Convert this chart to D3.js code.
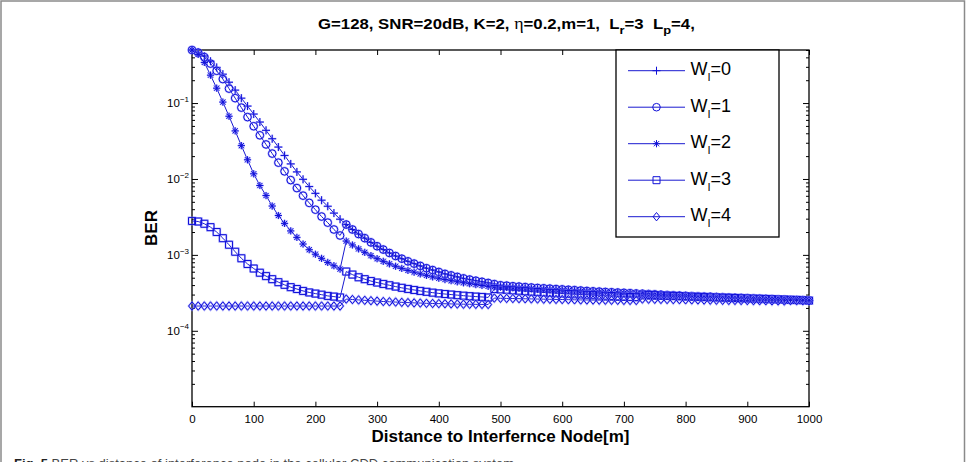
<!DOCTYPE html>
<html><head><meta charset="utf-8">
<script src="https://cdn.jsdelivr.net/npm/d3@7"></script>
<style>body{margin:0;background:#fff} svg{display:block;font-family:"Liberation Sans",Arial,sans-serif}</style>
</head><body><svg id="c" width="968" height="462"></svg>
<script>
// ---------- data ----------
const distance = [0,10,20,30,40,50,60,70,80,90,100,110,120,130,140,150,160,170,180,190,200,210,220,230,240,250,260,270,280,290,300,310,320,330,340,350,360,370,380,390,400,410,420,430,440,450,460,470,480,490,500,510,520,530,540,550,560,570,580,590,600,610,620,630,640,650,660,670,680,690,700,710,720,730,740,750,760,770,780,790,800,810,820,830,840,850,860,870,880,890,900,910,920,930,940,950,960,970,980,990,1000];

const berW0 = [0.500,0.468,0.417,0.355,0.295,0.240,0.188,0.148,0.116,0.0912,0.0716,0.0562,0.0437,0.0339,0.0263,0.0204,0.0158,0.0124,0.00989,0.00794,0.00646,0.00525,0.00437,0.00355,0.00295,
0.00251,0.00216,0.00188,0.00166,0.00146,0.00130,0.001175,0.00106,9.66e-4,8.91e-4,8.22e-4,7.67e-4,7.16e-4,6.68e-4,6.31e-4,5.96e-4,5.62e-4,5.37e-4,5.13e-4,4.90e-4,4.73e-4,4.57e-4,4.42e-4,4.27e-4,
4.12e-4,3.98e-4,3.93e-4,3.87e-4,3.82e-4,3.77e-4,3.72e-4,3.67e-4,3.63e-4,3.59e-4,3.55e-4,3.51e-4,3.47e-4,3.43e-4,3.39e-4,3.35e-4,3.31e-4,3.28e-4,3.25e-4,3.22e-4,3.19e-4,3.16e-4,3.13e-4,3.10e-4,
3.08e-4,3.05e-4,3.02e-4,2.99e-4,2.96e-4,2.94e-4,2.91e-4,2.88e-4,2.86e-4,2.84e-4,2.82e-4,2.81e-4,2.79e-4,2.77e-4,2.75e-4,2.73e-4,2.71e-4,2.69e-4,2.67e-4,2.65e-4,2.64e-4,2.62e-4,2.60e-4,2.58e-4,2.56e-4,2.55e-4,2.53e-4,2.51e-4];

const berW1 = [0.500,0.462,0.403,0.331,0.266,0.207,0.155,0.116,0.0871,0.0653,0.0495,0.0376,0.0285,0.0216,0.0164,0.0126,0.00966,0.00759,0.00603,0.00484,0.00394,0.00320,0.00266,0.00216,0.00180,
0.00251,0.00216,0.00188,0.00166,0.00146,0.00130,0.001175,0.00106,9.66e-4,8.91e-4,8.22e-4,7.67e-4,7.16e-4,6.68e-4,6.31e-4,5.96e-4,5.62e-4,5.37e-4,5.13e-4,4.90e-4,4.73e-4,4.57e-4,4.42e-4,4.27e-4,
4.12e-4,3.98e-4,3.93e-4,3.87e-4,3.82e-4,3.77e-4,3.72e-4,3.67e-4,3.63e-4,3.59e-4,3.55e-4,3.51e-4,3.47e-4,3.43e-4,3.39e-4,3.35e-4,3.31e-4,3.28e-4,3.25e-4,3.22e-4,3.19e-4,3.16e-4,3.13e-4,3.10e-4,
3.08e-4,3.05e-4,3.02e-4,2.99e-4,2.96e-4,2.94e-4,2.91e-4,2.88e-4,2.86e-4,2.84e-4,2.82e-4,2.81e-4,2.79e-4,2.77e-4,2.75e-4,2.73e-4,2.71e-4,2.69e-4,2.67e-4,2.65e-4,2.64e-4,2.62e-4,2.60e-4,2.58e-4,2.56e-4,2.55e-4,2.53e-4,2.51e-4];

const berW2 = [0.500,0.437,0.343,0.233,0.157,0.103,0.067,0.043,0.0275,0.0179,0.0117,0.0082,0.00605,0.0044,0.0033,0.0026,0.00207,0.0017,0.00139,0.00117,0.00102,9.0e-4,7.95e-4,7.2e-4,6.5e-4,
1.52e-3,1.35e-3,1.20e-3,1.08e-3,9.77e-4,8.91e-4,8.22e-4,7.62e-4,7.08e-4,6.64e-4,6.24e-4,5.92e-4,5.62e-4,5.37e-4,5.13e-4,4.92e-4,4.73e-4,4.57e-4,4.42e-4,4.29e-4,4.17e-4,4.06e-4,3.95e-4,3.85e-4,
3.80e-4,3.76e-4,3.72e-4,3.68e-4,3.64e-4,3.60e-4,3.57e-4,3.53e-4,3.50e-4,3.47e-4,3.44e-4,3.41e-4,3.38e-4,3.35e-4,3.32e-4,3.29e-4,3.26e-4,3.24e-4,3.21e-4,3.19e-4,3.16e-4,3.14e-4,3.12e-4,3.10e-4,
3.07e-4,3.05e-4,3.03e-4,3.00e-4,2.98e-4,2.96e-4,2.94e-4,2.92e-4,2.90e-4,2.88e-4,2.86e-4,2.84e-4,2.82e-4,2.80e-4,2.78e-4,2.76e-4,2.74e-4,2.72e-4,2.70e-4,2.68e-4,2.66e-4,2.65e-4,2.63e-4,2.61e-4,2.59e-4,2.57e-4,2.55e-4,2.53e-4];

const berW3 = [2.80e-3,2.75e-3,2.57e-3,2.32e-3,2.00e-3,1.66e-3,1.36e-3,1.10e-3,9.02e-4,7.59e-4,6.61e-4,5.82e-4,5.25e-4,4.79e-4,4.37e-4,4.03e-4,3.76e-4,3.55e-4,3.35e-4,3.20e-4,3.09e-4,2.99e-4,2.88e-4,2.82e-4,2.75e-4,
6.03e-4,5.50e-4,5.07e-4,4.79e-4,4.52e-4,4.32e-4,4.14e-4,3.98e-4,3.82e-4,3.68e-4,3.56e-4,3.45e-4,3.35e-4,3.26e-4,3.18e-4,3.11e-4,3.05e-4,3.00e-4,2.95e-4,2.90e-4,2.86e-4,2.82e-4,2.79e-4,2.75e-4,
3.55e-4,3.51e-4,3.47e-4,3.42e-4,3.37e-4,3.33e-4,3.28e-4,3.24e-4,3.20e-4,3.16e-4,3.13e-4,3.09e-4,3.06e-4,3.03e-4,3.01e-4,2.98e-4,2.95e-4,2.92e-4,2.90e-4,2.87e-4,2.84e-4,2.82e-4,2.79e-4,2.77e-4,
3.00e-4,2.97e-4,2.95e-4,2.92e-4,2.90e-4,2.88e-4,2.86e-4,2.84e-4,2.82e-4,2.80e-4,2.78e-4,2.76e-4,2.75e-4,2.73e-4,2.72e-4,2.70e-4,2.68e-4,2.67e-4,2.65e-4,2.64e-4,2.62e-4,2.61e-4,2.59e-4,2.58e-4,2.56e-4,2.55e-4,2.53e-4,2.50e-4];

const berW4 = [2.12e-4,2.12e-4,2.12e-4,2.12e-4,2.12e-4,2.12e-4,2.12e-4,2.12e-4,2.12e-4,2.12e-4,2.12e-4,2.12e-4,2.12e-4,2.12e-4,2.12e-4,2.12e-4,2.12e-4,2.12e-4,2.12e-4,2.12e-4,2.12e-4,2.12e-4,2.12e-4,2.12e-4,2.12e-4,
2.62e-4,2.58e-4,2.55e-4,2.52e-4,2.49e-4,2.46e-4,2.43e-4,2.41e-4,2.39e-4,2.37e-4,2.35e-4,2.33e-4,2.32e-4,2.30e-4,2.29e-4,2.28e-4,2.27e-4,2.26e-4,2.25e-4,2.24e-4,2.235e-4,2.23e-4,2.225e-4,2.22e-4,
2.70e-4,2.68e-4,2.67e-4,2.66e-4,2.65e-4,2.64e-4,2.63e-4,2.62e-4,2.61e-4,2.60e-4,2.59e-4,2.58e-4,2.57e-4,2.56e-4,2.55e-4,2.545e-4,2.54e-4,2.535e-4,2.53e-4,2.525e-4,2.52e-4,2.515e-4,2.51e-4,2.505e-4,
2.62e-4,2.61e-4,2.60e-4,2.59e-4,2.58e-4,2.575e-4,2.57e-4,2.56e-4,2.555e-4,2.55e-4,2.54e-4,2.535e-4,2.53e-4,2.52e-4,2.515e-4,2.51e-4,2.505e-4,2.50e-4,2.495e-4,2.49e-4,2.485e-4,2.48e-4,2.475e-4,2.47e-4,2.50e-4,2.495e-4,2.49e-4,2.485e-4];

const seriesLabels = ["0","1","2","3","4"];
const seriesMarkers = ["plus","circle","star","square","diamond"];
const xTickValues = [0,100,200,300,400,500,600,700,800,900,1000];
const yTickValues = [1e-4,1e-3,1e-2,1e-1];
const yTickExponents = ["\u22124","\u22123","\u22122","\u22121"];

// ---------- drawing ----------
const allSeries = [berW0,berW1,berW2,berW3,berW4];
const svg = d3.select("#c");
const plot = {l:192, r:809, t:50, b:406.7};
const x = d3.scaleLinear().domain([0,1000]).range([plot.l, plot.r]);
const y = d3.scaleLog().domain([1e-5,0.5]).range([plot.b, plot.t]);

// outer frame
svg.append("rect").attr("x",1).attr("y",1).attr("width",963.5).attr("height",480)
  .attr("fill","none").attr("stroke","#8a8a8a").attr("stroke-width",1.5);

// axes ticks
const xb = svg.append("g").attr("transform",`translate(0,${plot.b})`)
  .call(d3.axisBottom(x).tickValues(xTickValues).tickSizeInner(-5).tickSizeOuter(0).tickPadding(8.5).tickFormat(d3.format("d")));
const xt = svg.append("g").attr("transform",`translate(0,${plot.t})`)
  .call(d3.axisTop(x).tickValues(xTickValues).tickSizeInner(-5).tickSizeOuter(0).tickFormat(""));
const minor = [];
for (const dec of [1e-5,1e-4,1e-3,1e-2,1e-1]) for (let k=2;k<=9;k++){ const v=dec*k; if (v<=0.5) minor.push(v); }
svg.append("g").attr("transform",`translate(${plot.l},0)`)
  .call(d3.axisLeft(y).tickValues(yTickValues).tickSizeInner(-6).tickSizeOuter(0).tickFormat(""));
svg.append("g").attr("transform",`translate(${plot.l},0)`)
  .call(d3.axisLeft(y).tickValues(minor).tickSizeInner(-3).tickSizeOuter(0).tickFormat(""));
svg.append("g").attr("transform",`translate(${plot.r},0)`)
  .call(d3.axisRight(y).tickValues(yTickValues).tickSizeInner(-6).tickSizeOuter(0).tickFormat(""));
svg.append("g").attr("transform",`translate(${plot.r},0)`)
  .call(d3.axisRight(y).tickValues(minor).tickSizeInner(-3).tickSizeOuter(0).tickFormat(""));
svg.selectAll(".domain").remove();
svg.selectAll(".tick line").attr("stroke","#000").attr("stroke-width",1);
xb.selectAll("text").attr("font-size","11.5px").attr("fill","#000").attr("font-family","Liberation Sans, Arial, sans-serif");

// y tick labels (10^-k)
const ylab = svg.append("g");
yTickValues.forEach((v,i)=>{
  const t = ylab.append("text").attr("x",189).attr("y",y(v)+4.2).attr("text-anchor","end")
    .attr("font-size","11.5px").attr("fill","#000");
  t.append("tspan").text("10");
  t.append("tspan").attr("font-size","8px").attr("dy",-5.5).text(yTickExponents[i]);
});

// box
svg.append("rect").attr("x",plot.l).attr("y",plot.t).attr("width",plot.r-plot.l).attr("height",plot.b-plot.t)
  .attr("fill","none").attr("stroke","#000").attr("stroke-width",1.3);

// marker shapes
function markerPath(kind){
  switch(kind){
    case "plus": return "M-4,0H4M0,-4V4";
    case "star": return "M-3.6,0H3.6M0,-3.6V3.6M-2.6,-2.6L2.6,2.6M-2.6,2.6L2.6,-2.6";
    case "square": return "M-3.5,-3.5H3.5V3.5H-3.5Z";
    case "diamond": return "M0,-4.2L3.4,0L0,4.2L-3.4,0Z";
    case "circle": return "M3.8,0A3.8,3.8 0 1 1 -3.8,0A3.8,3.8 0 1 1 3.8,0Z";
  }
}
const lineGen = d3.line().x((d,i)=>x(distance[i])).y(d=>y(d));
const plotG = svg.append("g");
allSeries.forEach((s,si)=>{
  plotG.append("path").datum(s).attr("d",lineGen).attr("fill","none")
    .attr("stroke","#1a1ad0").attr("stroke-width",1);
  const mg = plotG.append("g");
  mg.selectAll("path.h").data(s).join("path").attr("class","h")
    .attr("transform",(d,i)=>`translate(${x(distance[i])},${y(d)})`)
    .attr("d",markerPath(seriesMarkers[si])).attr("fill","none")
    .attr("stroke","#8c8cff").attr("stroke-width",2).attr("opacity",0.6);
  mg.selectAll("path.m").data(s).join("path").attr("class","m")
    .attr("transform",(d,i)=>`translate(${x(distance[i])},${y(d)})`)
    .attr("d",markerPath(seriesMarkers[si])).attr("fill","none")
    .attr("stroke","#1010d8").attr("stroke-width",1);
});

// legend
const lg = svg.append("g");
lg.append("rect").attr("x",616).attr("y",50).attr("width",163).attr("height",187)
  .attr("fill","#fff").attr("stroke","#000").attr("stroke-width",1.3);
const rowY = d3.scaleLinear().domain([0,4]).range([70.7,216.7]);
seriesLabels.forEach((lab,i)=>{
  const yy = rowY(i);
  lg.append("line").attr("x1",628).attr("x2",685).attr("y1",yy).attr("y2",yy)
    .attr("stroke","#1a1ad0").attr("stroke-width",1);
  lg.append("path").attr("transform",`translate(656.5,${yy})`).attr("d",markerPath(seriesMarkers[i]))
    .attr("fill","none").attr("stroke","#1010d8").attr("stroke-width",1);
  const t = lg.append("text").attr("x",690.5).attr("y",yy+4.5).attr("font-size","18px").attr("fill","#000");
  t.append("tspan").text("W");
  t.append("tspan").attr("font-size","11px").attr("dy",6).text("I");
  t.append("tspan").attr("dy",-6).text("="+lab);
});

// title
const title = svg.append("text").attr("x",318).attr("y",29).attr("font-size","15px")
  .attr("font-weight","bold").attr("fill","#000").style("white-space","pre");
title.append("tspan").text("G=128, SNR=20dB, K=2, ");
title.append("tspan").attr("font-weight","normal").attr("font-family","Liberation Serif, serif").attr("font-size","16px").text("\u03B7");
title.append("tspan").text("=0.2,m=1,  L");
title.append("tspan").attr("font-size","11.5px").attr("dy",5).text("r");
title.append("tspan").attr("dy",-5).text("=3  L");
title.append("tspan").attr("font-size","11.5px").attr("dy",5).text("p");
title.append("tspan").attr("dy",-5).text("=4,");
{
  const w = title.node().getBBox().width, s = 377 / w;
  title.attr("transform",`translate(318,0) scale(${s},1) translate(-318,0)`);
}

// axis titles
svg.append("text").attr("x",(plot.l+plot.r)/2).attr("y",441.5).attr("text-anchor","middle")
  .attr("font-size","17px").attr("font-weight","bold").attr("fill","#000").text("Distance to Interfernce Node[m]");
svg.append("text").attr("transform",`translate(157,228) rotate(-90)`).attr("text-anchor","middle")
  .attr("font-size","17px").attr("font-weight","bold").attr("fill","#000").text("BER");

// caption (cut by the bottom edge, as in the reference)
const cap = svg.append("text").attr("x",14).attr("y",467.5).attr("font-size","13px").attr("fill","#444");
cap.append("tspan").attr("font-weight","bold").attr("fill","#222").text("Fig. 5");
cap.append("tspan").text(" BER vs distance of interference node in the cellular CDD communication system");
</script></body></html>
